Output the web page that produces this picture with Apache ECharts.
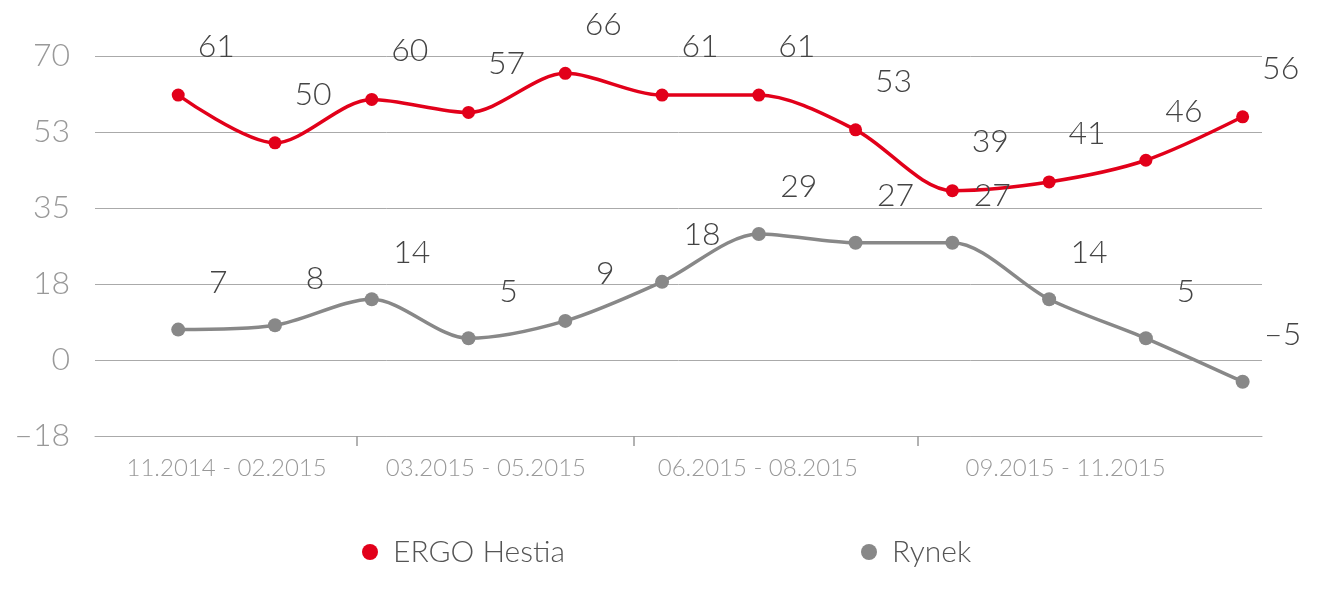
<!DOCTYPE html>
<html>
<head>
<meta charset="utf-8">
<script src="https://cdn.jsdelivr.net/npm/echarts@6/dist/echarts.min.js"></script>
<style>
  html, body { margin: 0; padding: 0; background: #fff; }
  #chart { width: 1318px; height: 594px; }
</style>
</head>
<body>
<div id="chart"></div>
<script>
// okresy na osi X (grupy miesięcy)
var groupLabels = ['11.2014 - 02.2015', '03.2015 - 05.2015', '06.2015 - 08.2015', '09.2015 - 11.2015'];
// środki etykiet grup i kreski między grupami (w jednostkach indeksu punktu)
var groupCenters = [0.5, 3.18, 5.99, 9.17];
var groupTicks = [1.85, 4.71, 7.64];
// wartości serii
var ergoHestia = [61, 50, 60, 57, 66, 61, 61, 53, 39, 41, 46, 56];
var rynek = [7, 8, 14, 5, 9, 18, 29, 27, 27, 14, 5, -5];

var FONT = 'Lato';

// zamiana wartości na liczbę ze znakiem "–"
function fmt(v) {
  var n = Math.round(Math.abs(v));
  return (v < 0 ? '–' : '') + n;
}

// pary [indeks, wartość] dla osi wartości X
function toPoints(arr) {
  return arr.map(function (v, i) { return [i, v]; });
}

var chart = echarts.init(document.getElementById('chart'));
chart.setOption({
  animation: false,
  grid: { left: 95, right: 56, top: 56, bottom: 158 },
  legend: {
    bottom: 22,
    left: 357,
    itemGap: 296,
    icon: 'circle',
    itemWidth: 16,
    itemHeight: 16,
    textStyle: { fontFamily: FONT, fontSize: 30, color: '#555', fontWeight: 300, padding: [0, 0, 0, 10] },
    data: ['ERGO Hestia', 'Rynek']
  },
  xAxis: {
    type: 'value',
    min: -0.86,
    max: 11.2,
    splitLine: { show: false },
    axisLine: { show: true, onZero: false, lineStyle: { color: '#aaa', width: 1 } },
    axisTick: {
      show: true, customValues: groupTicks, length: 10,
      lineStyle: { color: '#999', width: 1.5 }
    },
    axisLabel: {
      customValues: groupCenters,
      margin: 20,
      fontFamily: FONT, fontSize: 24, color: '#999', fontWeight: 300,
      formatter: function (v) {
        var best = 0;
        groupCenters.forEach(function (c, i) {
          if (Math.abs(c - v) < Math.abs(groupCenters[best] - v)) best = i;
        });
        return groupLabels[best];
      }
    }
  },
  yAxis: {
    type: 'value',
    min: -17.5,
    max: 70,
    interval: 17.5,
    axisLine: { show: false },
    axisTick: { show: false },
    splitLine: { lineStyle: { color: '#aaa', width: 1 } },
    axisLabel: {
      margin: 25,
      fontFamily: FONT, fontSize: 32, color: '#999', fontWeight: 300,
      formatter: fmt
    }
  },
  series: [
    {
      name: 'ERGO Hestia',
      type: 'line',
      smooth: 0.3,
      data: toPoints(ergoHestia),
      symbol: 'circle',
      symbolSize: 13,
      color: '#e2001a',
      lineStyle: { width: 3.5, color: '#e2001a' },
      itemStyle: { color: '#e2001a' },
      label: {
        show: true, position: 'top', distance: 8, offset: [38, -18],
        fontFamily: FONT, fontSize: 32, color: '#444', fontWeight: 300,
        formatter: function (p) { return fmt(p.value[1]); }
      }
    },
    {
      name: 'Rynek',
      type: 'line',
      smooth: 0.3,
      data: toPoints(rynek),
      symbol: 'circle',
      symbolSize: 14,
      color: '#888',
      lineStyle: { width: 3.5, color: '#888' },
      itemStyle: { color: '#888' },
      label: {
        show: true, position: 'top', distance: 8, offset: [40, -16],
        fontFamily: FONT, fontSize: 32, color: '#444', fontWeight: 300,
        formatter: function (p) { return fmt(p.value[1]); }
      }
    }
  ]
});
</script>
</body>
</html>
